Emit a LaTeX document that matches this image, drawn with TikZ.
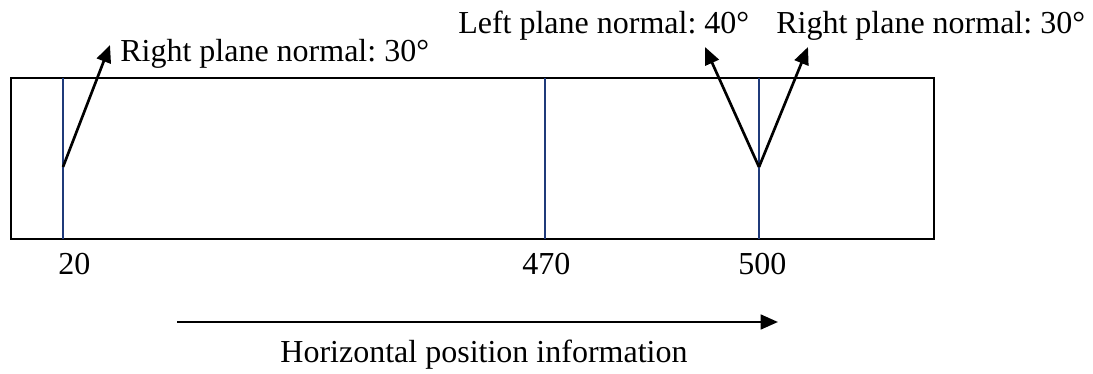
\documentclass[tikz,border=0pt]{standalone}
\usepackage{fontspec}
\setmainfont{Liberation Serif}
\usepackage{tikz}
\usetikzlibrary{arrows.meta, positioning}
\definecolor{planeblue}{HTML}{1F3A7A}
\definecolor{dark}{HTML}{000000}
\tikzstyle{label}  = [inner sep=0pt, font=\fontsize{24}{28}\selectfont]
\tikzstyle{plane}  = [draw=planeblue, line width=1pt]
\tikzstyle{arrow}  = [-{Triangle[length=13pt,width=11pt]}, line width=2pt, color=dark]

\begin{document}
\frenchspacing
\begin{tikzpicture}[x=0.75pt, y=-0.75pt]
  \useasboundingbox (0,0) rectangle (1093,374);

  %% ── Frame ──
  \draw[line width=1.7pt] (11,78) rectangle (934,239);

  %% ── Planes ──
  \coordinate (p20top) at (63,78);   \coordinate (p20bot) at (63,239);
  \coordinate (p470top) at (545,78); \coordinate (p470bot) at (545,239);
  \coordinate (p500top) at (759,78); \coordinate (p500bot) at (759,239);
  \draw[plane] (p20top) -- (p20bot);
  \draw[plane] (p470top) -- (p470bot);
  \draw[plane] (p500top) -- (p500bot);

  %% ── Position labels ──
  \node[label, anchor=base west] (n20)  at (58,275)  {20};
  \node[label, anchor=base west] (n470) at (522,275) {470};
  \node[label, anchor=base west] (n500) at (738,275) {500};

  %% ── Normal labels ──
  \node[label, anchor=base west] (rpn_a) at (120,62) {Right plane normal: 30°};
  \node[label, anchor=base west] (lpn)   at (458,34) {Left plane normal: 40°};
  \node[label, anchor=base west] (rpn_b) at (776,34) {Right plane normal: 30°};

  %% ── Normals ──
  \coordinate (foot20)  at (63,167);
  \coordinate (foot500) at (759,167);
  \coordinate (tip_a) at (110,45);
  \coordinate (tip_l) at (705,47);
  \coordinate (tip_r) at (808,47);
  \draw[arrow] (foot20) -- (tip_a);
  \draw[arrow] (foot500) -- (tip_l);
  \draw[arrow] (foot500) -- (tip_r);

  %% ── Direction ──
  \coordinate (dir_start) at (177,322);
  \coordinate (dir_end)   at (778,322);
  \draw[arrow] (dir_start) -- (dir_end);
  \node[label, anchor=base] (dir) at (484,362) {Horizontal position information};

\end{tikzpicture}
\end{document}
